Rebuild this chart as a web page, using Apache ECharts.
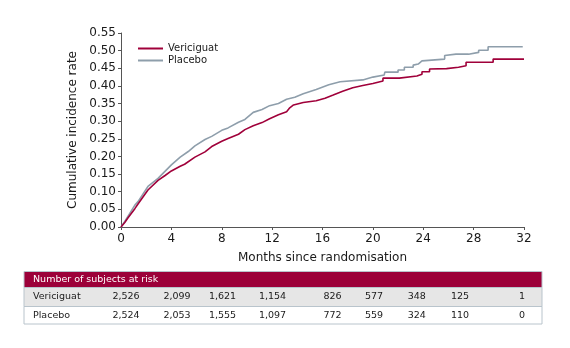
<!DOCTYPE html>
<html>
<head>
<meta charset="utf-8">
<script src="https://cdn.jsdelivr.net/npm/echarts@6/dist/echarts.min.js"></script>
<style>
  html, body { margin: 0; padding: 0; background: #ffffff; }
  #chart { width: 570px; height: 348px; }
</style>
</head>
<body>
<div id="chart"></div>
<script>
// Cumulative incidence curves (Kaplan–Meier style), months since randomisation
const vericiguatMonths = [0, 0.3, 0.56, 1.1, 1.35, 2.14, 2.94, 3.5, 4, 4.7, 5.05, 5.87, 6.67, 7.2, 8, 8.5, 9.33, 9.84, 10.5, 11.2, 11.8, 12.5, 13.15, 13.4, 13.7, 14.47, 15.5, 16.2, 16.85, 17.6, 18.4, 19.2, 20, 20.8, 20.8, 22.1, 22.1, 23.5, 23.5, 23.9, 23.9, 24.5, 24.5, 25.85, 25.85, 26.8, 26.8, 27.4, 27.4, 29.55, 29.55, 32];
const vericiguatRate   = [0, 0.013, 0.026, 0.052, 0.065, 0.105, 0.132, 0.146, 0.159, 0.172, 0.178, 0.198, 0.213, 0.228, 0.243, 0.251, 0.263, 0.276, 0.287, 0.296, 0.307, 0.318, 0.327, 0.338, 0.346, 0.353, 0.358, 0.365, 0.374, 0.385, 0.395, 0.401, 0.407, 0.414, 0.422, 0.422, 0.426, 0.428, 0.433, 0.433, 0.44, 0.44, 0.448, 0.449, 0.453, 0.453, 0.457, 0.457, 0.467, 0.467, 0.476, 0.476];

const placeboMonths = [0, 0.3, 0.56, 1.1, 1.35, 2.14, 2.94, 3.47, 4, 4.7, 5.34, 5.87, 6.67, 7.2, 8, 8.5, 9.33, 9.84, 10.5, 11.2, 11.8, 12.5, 13.15, 13.8, 14.47, 15.5, 16.5, 17.4, 19.2, 20.0, 20.9, 20.95, 22.0, 22.0, 22.5, 22.5, 23.2, 23.2, 23.6, 23.9, 25.7, 25.7, 26.6, 27.6, 27.6, 28.4, 28.4, 29.15, 29.15, 31.9];
const placeboRate   = [0, 0.016, 0.031, 0.062, 0.072, 0.115, 0.138, 0.157, 0.176, 0.198, 0.214, 0.23, 0.248, 0.257, 0.274, 0.281, 0.297, 0.305, 0.325, 0.333, 0.344, 0.35, 0.362, 0.368, 0.378, 0.39, 0.403, 0.412, 0.417, 0.425, 0.431, 0.439, 0.439, 0.445, 0.445, 0.453, 0.453, 0.459, 0.462, 0.471, 0.476, 0.486, 0.49, 0.49, 0.495, 0.495, 0.501, 0.501, 0.511, 0.511];

// Number of subjects at risk, every 4 months from 0 to 32
const riskMonths     = [0, 4, 8, 12, 16, 20, 24, 28, 32];
const riskVericiguat = ['2,526', '2,099', '1,621', '1,154', '826', '577', '348', '125', '1'];
const riskPlacebo    = ['2,524', '2,053', '1,555', '1,097', '772', '559', '324', '110', '0'];

const seriesNames = ['Vericiguat', 'Placebo'];
const xTitle = 'Months since randomisation';
const yTitle = 'Cumulative incidence rate';
const tableTitle = 'Number of subjects at risk';

const FONT = 'DejaVu Sans';
const RED = '#a0003a';
const GREY = '#8e9eab';

function pairs(xs, ys) { return xs.map((x, i) => [x, ys[i]]); }

const chart = echarts.init(document.getElementById('chart'), null, { renderer: 'canvas' });

// column centres of the at-risk table
const colX = [126, 177, 222.5, 272.5, 332.5, 374, 416.7, 460, 522];
const tblL = 24, tblR = 542;
const hdrT = 271.5, hdrB = 287.5, r1B = 306.5, r2B = 324;

const graphics = [
  { type: 'rect', shape: { x: tblL, y: hdrT, width: tblR - tblL, height: hdrB - hdrT }, style: { fill: '#9c0039', stroke: '#b9c4cc', lineWidth: 1 } },
  { type: 'rect', shape: { x: tblL, y: hdrB, width: tblR - tblL, height: r1B - hdrB }, style: { fill: '#e6e6e6', stroke: '#b9c4cc', lineWidth: 1 } },
  { type: 'rect', shape: { x: tblL, y: r1B, width: tblR - tblL, height: r2B - r1B }, style: { fill: '#ffffff', stroke: '#b9c4cc', lineWidth: 1 } },
  { type: 'text', x: 33, y: (hdrT + hdrB) / 2, style: { text: tableTitle, fill: '#ffffff', font: '9.5px ' + FONT, textVerticalAlign: 'middle' } },
  { type: 'text', x: 33, y: (hdrB + r1B) / 2, style: { text: seriesNames[0], fill: '#1a1a1a', font: '9.5px ' + FONT, textVerticalAlign: 'middle' } },
  { type: 'text', x: 33, y: (r1B + r2B) / 2, style: { text: seriesNames[1], fill: '#1a1a1a', font: '9.5px ' + FONT, textVerticalAlign: 'middle' } }
];
riskMonths.forEach((m, i) => {
  graphics.push({ type: 'text', x: colX[i], y: (hdrB + r1B) / 2, style: { text: riskVericiguat[i], fill: '#1a1a1a', font: '9.5px ' + FONT, textAlign: 'center', textVerticalAlign: 'middle' } });
  graphics.push({ type: 'text', x: colX[i], y: (r1B + r2B) / 2, style: { text: riskPlacebo[i], fill: '#1a1a1a', font: '9.5px ' + FONT, textAlign: 'center', textVerticalAlign: 'middle' } });
});

chart.setOption({
  animation: false,
  backgroundColor: '#ffffff',
  grid: { left: 121, right: 46, top: 33, bottom: 121, containLabel: false },
  legend: {
    data: seriesNames,
    orient: 'vertical',
    left: 133, top: 38,
    itemWidth: 25, itemHeight: 2, itemGap: 1,
    icon: 'rect',
    textStyle: { fontFamily: FONT, fontSize: 10, color: '#1a1a1a', lineHeight: 11 }
  },
  xAxis: {
    type: 'value', min: 0, max: 32, interval: 4,
    name: xTitle, nameLocation: 'middle', nameGap: 25,
    nameTextStyle: { fontFamily: FONT, fontSize: 12, color: '#1a1a1a' },
    axisLine: { show: true, lineStyle: { color: '#555', width: 1 } },
    axisTick: { show: true, length: 3, lineStyle: { color: '#555' } },
    axisLabel: { fontFamily: FONT, fontSize: 12, color: '#1a1a1a', margin: 6 },
    splitLine: { show: false }
  },
  yAxis: {
    type: 'value', min: 0, max: 0.55, interval: 0.05,
    name: yTitle, nameLocation: 'middle', nameGap: 41,
    nameTextStyle: { fontFamily: FONT, fontSize: 12, color: '#1a1a1a' },
    axisLine: { show: true, lineStyle: { color: '#555', width: 1 } },
    axisTick: { show: true, length: 3, lineStyle: { color: '#555' } },
    axisLabel: { fontFamily: FONT, fontSize: 12, color: '#1a1a1a', margin: 5, formatter: v => v.toFixed(2) },
    splitLine: { show: false }
  },
  series: [
    { name: seriesNames[1], type: 'line', data: pairs(placeboMonths, placeboRate), showSymbol: false, symbol: 'none', color: GREY, lineStyle: { color: GREY, width: 1.6 }, z: 2 },
    { name: seriesNames[0], type: 'line', data: pairs(vericiguatMonths, vericiguatRate), showSymbol: false, symbol: 'none', color: RED, lineStyle: { color: RED, width: 1.6 }, z: 3 }
  ],
  graphic: graphics
});
</script>
</body>
</html>
